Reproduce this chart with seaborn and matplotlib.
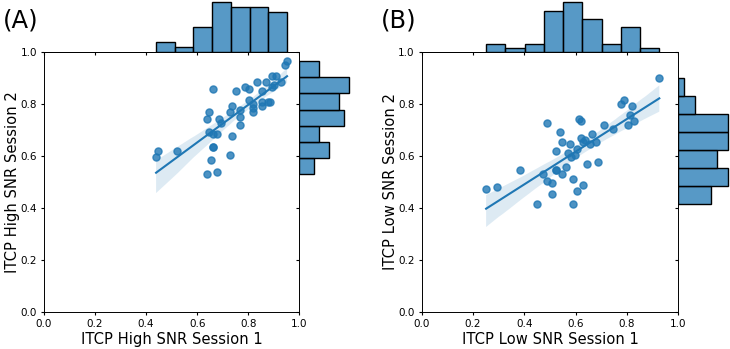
import matplotlib
matplotlib.use("Agg")
import matplotlib.pyplot as plt
import numpy as np
import pandas as pd
import seaborn as sns

# --- data (44 subjects per panel) ---
high_s1 = [0.439, 0.448, 0.522, 0.637, 0.679, 0.654, 0.662, 0.662, 0.727, 0.645,
           0.662, 0.679, 0.637, 0.645, 0.687, 0.694, 0.662, 0.736, 0.727, 0.736,
           0.753, 0.769, 0.769, 0.769, 0.786, 0.803, 0.803, 0.819, 0.819, 0.819,
           0.836, 0.853, 0.853, 0.853, 0.870, 0.877, 0.885, 0.893, 0.910, 0.893,
           0.902, 0.927, 0.943, 0.952]
high_s2 = [0.594, 0.619, 0.619, 0.529, 0.537, 0.585, 0.635, 0.635, 0.603, 0.692,
           0.686, 0.686, 0.743, 0.768, 0.743, 0.725, 0.859, 0.677, 0.768, 0.792,
           0.851, 0.719, 0.751, 0.775, 0.866, 0.859, 0.816, 0.800, 0.783, 0.768,
           0.883, 0.851, 0.809, 0.792, 0.883, 0.809, 0.809, 0.908, 0.908, 0.866,
           0.874, 0.883, 0.949, 0.965]

low_s1 = [0.251, 0.292, 0.383, 0.448, 0.474, 0.490, 0.490, 0.507, 0.507, 0.522,
          0.522, 0.522, 0.539, 0.547, 0.547, 0.564, 0.571, 0.579, 0.581, 0.588,
          0.588, 0.596, 0.604, 0.604, 0.613, 0.621, 0.621, 0.630, 0.630, 0.638,
          0.646, 0.655, 0.663, 0.679, 0.687, 0.712, 0.746, 0.778, 0.787, 0.803,
          0.812, 0.820, 0.827, 0.926]
low_s2 = [0.471, 0.479, 0.546, 0.414, 0.529, 0.727, 0.504, 0.496, 0.454, 0.620,
          0.546, 0.546, 0.693, 0.653, 0.529, 0.556, 0.611, 0.645, 0.595, 0.512,
          0.414, 0.603, 0.628, 0.464, 0.743, 0.734, 0.669, 0.652, 0.488, 0.661,
          0.570, 0.645, 0.685, 0.652, 0.578, 0.718, 0.702, 0.800, 0.816, 0.718,
          0.759, 0.792, 0.734, 0.900]

panels = [
    dict(tag="(A)", x=high_s1, y=high_s2, xbins=7, ybins=7,
         xlabel="ITCP High SNR Session 1", ylabel="ITCP High SNR Session 2",
         left=44, width=255.3),
    dict(tag="(B)", x=low_s1, y=low_s2, xbins=9, ybins=7,
         xlabel="ITCP Low SNR Session 1", ylabel="ITCP Low SNR Session 2",
         left=421.7, width=256.6),
]

plt.rcParams.update({
    "xtick.labelsize": 7.5,
    "ytick.labelsize": 7.5,
    "xtick.major.size": 2.5,
    "ytick.major.size": 2.5,
    "xtick.major.pad": 2.5,
    "ytick.major.pad": 2.5,
    "axes.linewidth": 0.7,
    "axes.labelpad": 2.5,
})

W, H = 730, 349
fig = plt.figure(figsize=(W / 100, H / 100), dpi=100)

top_px, bot_px = 52, 311.7
marg_px = 52

for p in panels:
    df = pd.DataFrame({"x": p["x"], "y": p["y"]})
    l = p["left"] / W
    w = p["width"] / W
    b = (H - bot_px) / H
    h = (bot_px - top_px) / H

    ax = fig.add_axes([l, b, w, h])
    ax_top = fig.add_axes([l, (H - top_px) / H, w, marg_px / H], sharex=ax)
    ax_right = fig.add_axes([l + w, b, marg_px / W, h], sharey=ax)

    # scatter + fitted line with 95% CI band
    sns.regplot(data=df, x="x", y="y", ax=ax, color="C0", seed=0,
                scatter_kws=dict(s=26), line_kws=dict(lw=1.5))
    ax.set_xticks(np.arange(0, 1.01, 0.2))
    ax.set_yticks(np.arange(0, 1.01, 0.2))
    ax.set_xlabel(p["xlabel"], fontsize=10.6)
    ax.set_ylabel(p["ylabel"], fontsize=10.6, labelpad=0.5)

    # marginal histograms
    sns.histplot(data=df, x="x", bins=p["xbins"], ax=ax_top, color="C0")
    sns.histplot(data=df, y="y", bins=p["ybins"], ax=ax_right, color="C0")

    ax_top.tick_params(labelbottom=False, left=False, labelleft=False)
    ax_top.set_xlabel("")
    ax_top.set_ylabel("")
    sns.despine(ax=ax_top, left=True)
    ax_right.tick_params(labelleft=False, bottom=False, labelbottom=False)
    ax_right.set_xlabel("")
    ax_right.set_ylabel("")
    sns.despine(ax=ax_right, bottom=True)

    ax.set_xlim(0, 1)
    ax.set_ylim(0, 1)

    fig.text(l - 41 / W, 0.975, p["tag"], fontsize=17.5, va="top", ha="left")

fig.savefig("out.png", dpi=100)
